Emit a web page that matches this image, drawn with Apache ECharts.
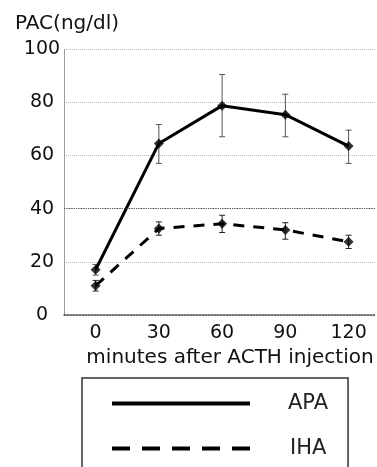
<!DOCTYPE html>
<html>
<head>
<meta charset="utf-8">
<script src="https://cdn.jsdelivr.net/npm/echarts@6/dist/echarts.min.js"></script>
<style>html,body{margin:0;padding:0;background:#fff}#c{width:377px;height:467px}</style>
</head>
<body>
<div id="c"></div>
<script>
var minutes = [0, 30, 60, 90, 120];
var apaMean = [17, 64.5, 78.7, 75.3, 63.5];
var apaLow  = [15, 57, 67, 67, 57];
var apaHigh = [19, 71.6, 90.4, 83, 69.5];
var ihaMean = [11, 32.5, 34.3, 32, 27.5];
var ihaLow  = [9, 30, 31, 28.5, 25];
var ihaHigh = [13, 35, 37.5, 34.7, 30];
var yTicks = [0, 20, 40, 60, 80, 100];

var FONT = 'DejaVu Sans';
function pairs(xs, ys){ return xs.map(function(x,i){return [x, ys[i]];}); }
function bars(xs, lo, hi){ return xs.map(function(x,i){return [x, lo[i], hi[i]];}); }
function errRender(color){
  return function(params, api){
    var x = api.value(0);
    var p1 = api.coord([x, api.value(1)]);
    var p2 = api.coord([x, api.value(2)]);
    var w = 3;
    var st = {stroke: color, lineWidth: 1};
    return {type:'group', children:[
      {type:'line', shape:{x1:p1[0],y1:p1[1],x2:p2[0],y2:p2[1]}, style:st},
      {type:'line', shape:{x1:p1[0]-w,y1:p1[1],x2:p1[0]+w,y2:p1[1]}, style:st},
      {type:'line', shape:{x1:p2[0]-w,y1:p2[1],x2:p2[0]+w,y2:p2[1]}, style:st}
    ]};
  };
}
var dashIcon = 'path://M0,0h18v4h-18z M30,0h18v4h-18z M60,0h18v4h-18z M90,0h18v4h-18z M120,0h18v4h-18z';

var chart = echarts.init(document.getElementById('c'), null, {renderer:'canvas'});
chart.setOption({
  animation:false,
  backgroundColor:'#fff',
  textStyle:{fontFamily:FONT},
  grid:{left:64, right:1, top:49, bottom:152},
  xAxis:{
    type:'value', min:-15, max:133,
    name:'minutes after ACTH injection', nameLocation:'middle', nameGap:28,
    nameTextStyle:{fontFamily:FONT, fontSize:20, color:'#111', padding:[0,0,0,20]},
    axisLine:{onZero:false, lineStyle:{color:'#444', width:1.5, type:'dotted'}},
    axisTick:{show:false},
    splitLine:{show:false},
    axisLabel:{customValues:minutes, fontFamily:FONT, fontSize:19, color:'#111', margin:9}
  },
  yAxis:{
    type:'value', min:0, max:100, interval:20,
    name:'PAC(ng/dl)', nameLocation:'end', nameGap:15,
    nameTextStyle:{fontFamily:FONT, fontSize:20, color:'#111', align:'left', padding:[0,0,0,-49]},
    axisLine:{show:true, onZero:false, lineStyle:{color:'#888', width:1, type:'dotted'}},
    axisTick:{show:false},
    splitLine:{show:true, lineStyle:{color:'#bbb', width:1, type:'dotted'}},
    axisLabel:{customValues:yTicks, fontFamily:FONT, fontSize:19, color:'#111', align:'center', margin:22}
  },
  legend:[{
    data:['APA'], icon:'rect',
    left:82, top:378,
    padding:[15,20,100,30],
    itemWidth:138, itemHeight:4,
    borderColor:'#333', borderWidth:1.5, borderRadius:0,
    textStyle:{fontFamily:FONT, fontSize:21, color:'#222', padding:[0,0,0,33]}
  },{
    data:['IHA'], icon:dashIcon,
    left:82, top:423,
    padding:[15,20,15,30],
    itemWidth:138, itemHeight:4,
    textStyle:{fontFamily:FONT, fontSize:21, color:'#222', padding:[0,0,0,35]}
  }],
  series:[
    {name:'APA', type:'line', data:pairs(minutes, apaMean), symbol:'none',
     lineStyle:{color:'#000', width:3}, itemStyle:{color:'#000'}, z:3},
    {name:'IHA', type:'line', data:pairs(minutes, ihaMean), symbol:'none',
     lineStyle:{color:'#000', width:3, type:[11,9]}, itemStyle:{color:'#000'}, z:3},
    {name:'apaPts', type:'scatter', data:pairs(minutes, apaMean), symbol:'diamond', symbolSize:10,
     itemStyle:{color:'#000'}, z:4},
    {name:'ihaPts', type:'scatter', data:pairs(minutes, ihaMean), symbol:'diamond', symbolSize:10,
     itemStyle:{color:'#000'}, z:4},
    {name:'apaErr', type:'custom', data:bars(minutes, apaLow, apaHigh), renderItem:errRender('#555'), z:2},
    {name:'ihaErr', type:'custom', data:bars(minutes, ihaLow, ihaHigh), renderItem:errRender('#222'), z:2},
    {name:'ref40', type:'line', data:[], markLine:{silent:true, symbol:'none', label:{show:false},
      lineStyle:{color:'#555', width:1.2, type:'dotted'}, data:[{yAxis:40}]}}
  ]
});
</script>
</body>
</html>
